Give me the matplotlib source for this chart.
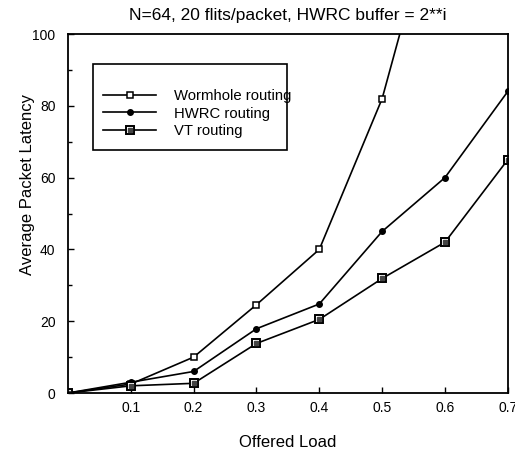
import matplotlib
matplotlib.use("Agg")
import matplotlib.pyplot as plt
from matplotlib.legend_handler import HandlerTuple
from matplotlib.patches import Rectangle
from matplotlib.ticker import MultipleLocator

plt.rcParams['font.family'] = ['Liberation Sans', 'DejaVu Sans']

# Dữ liệu
load = [0.0, 0.1, 0.2, 0.3, 0.4, 0.5, 0.6]
wormhole = [0.0, 2.5, 10.0, 24.6, 40.0, 82.0, 146.0]
load_long = [0.0, 0.1, 0.2, 0.3, 0.4, 0.5, 0.6, 0.7]
hwrc = [0.0, 3.0, 6.0, 17.9, 24.8, 45.0, 60.0, 84.0]
vt = [0.0, 2.0, 2.7, 13.8, 20.5, 31.9, 42.0, 65.0]
xtick_vals = [0.1, 0.2, 0.3, 0.4, 0.5, 0.6, 0.7]
xtick_labels = ["0.1", "0.2", "0.3", "0.4", "0.5", "0.6", "0.7"]
ytick_vals = [0, 20, 40, 60, 80, 100]

fig = plt.figure(figsize=(5.15, 4.51), dpi=100)
ax = fig.add_axes([0.132, 0.1286, 0.854, 0.796])

l1, = ax.plot(load, wormhole, '-', color='black', lw=1.2,
              marker='s', ms=5, mfc='white', mec='black', mew=1.1)
l2, = ax.plot(load_long, hwrc, '-', color='black', lw=1.2,
              marker='o', ms=4, mfc='black', mec='black')
l3, = ax.plot(load_long, vt, '-', color='black', lw=1.2,
              marker='s', ms=5.5, mfc='white', mec='black', mew=1.4)
l3b, = ax.plot(load_long, vt, ls='none', marker='s', ms=2.2,
               mfc='#444444', mec='#444444')

ax.set_xlim(0, 0.7)
ax.set_ylim(0, 100)
ax.set_xticks(xtick_vals)
ax.set_xticklabels(xtick_labels)
ax.set_yticks(ytick_vals)
ax.yaxis.set_minor_locator(MultipleLocator(10))
ax.tick_params(direction='in', labelsize=10, length=4, width=1)
ax.tick_params(which='minor', direction='in', length=3, width=1)
ax.tick_params(axis='x', pad=6)
ax.tick_params(axis='y', pad=9)
for s in ax.spines.values():
    s.set_linewidth(1.3)

ax.set_title("N=64, 20 flits/packet, HWRC buffer = 2**i", fontsize=12.5, pad=10)
ax.set_xlabel("Offered Load", fontsize=12, labelpad=14)
ax.set_ylabel("Average Packet Latency", fontsize=12)
ax.yaxis.set_label_coords(-0.075, 0.582)

# khung chú thích (chữ tràn ra ngoài khung như bản gốc)
ax.add_patch(Rectangle((0.057, 0.677), 0.441, 0.239, transform=ax.transAxes,
                       fill=False, edgecolor='black', lw=1.2, zorder=4))
leg = ax.legend([l1, l2, (l3, l3b)],
                ["Wormhole routing", "HWRC routing", "VT routing"],
                handler_map={tuple: HandlerTuple(ndivide=1, pad=0)},
                loc='upper left', bbox_to_anchor=(0.0795, 0.847),
                fontsize=10.7, frameon=False, handlelength=3.6,
                borderpad=0, borderaxespad=0,
                labelspacing=0.25, handletextpad=1.2)

fig.savefig("out.png", dpi=100)
